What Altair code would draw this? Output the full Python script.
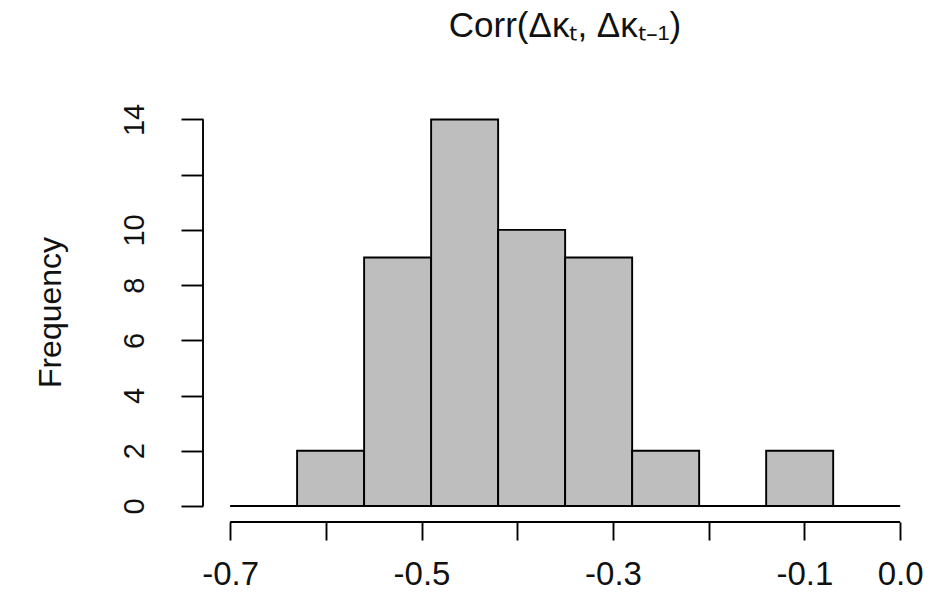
import altair as alt
import pandas as pd

# Histogram bins (0.07 wide) and counts
bin_start = [-0.63, -0.56, -0.49, -0.42, -0.35, -0.28, -0.21, -0.14]
bin_end = [-0.56, -0.49, -0.42, -0.35, -0.28, -0.21, -0.14, -0.07]
counts = [2, 9, 14, 10, 9, 2, 0, 2]

x_ticks = [-0.7, -0.6, -0.5, -0.4, -0.3, -0.2, -0.1, 0.0]
x_labeled = [-0.7, -0.5, -0.3, -0.1, 0.0]
y_ticks = [0, 2, 4, 6, 8, 10, 12, 14]
y_hidden = [12]

x_domain = [-0.7283, 0.028]
y_domain = [-0.58, 14.56]

FONT = "Liberation Sans"
LW = 1.9

df = pd.DataFrame({"start": bin_start, "end": bin_end, "count": counts})
base_df = pd.DataFrame({"start": [x_ticks[0]], "end": [x_ticks[-1]], "count": [0]})
xline_df = pd.DataFrame({"start": [x_ticks[0]], "end": [x_ticks[-1]], "count": [y_domain[0]]})
yline_df = pd.DataFrame({"start": [x_domain[0]], "count": [y_ticks[0]], "top": [y_ticks[-1]]})

xscale = alt.Scale(domain=x_domain, nice=False, zero=False)
yscale = alt.Scale(domain=y_domain, nice=False, zero=False)

lab_list = "[" + ",".join(str(v) for v in x_labeled) + "]"
x_expr = (f"indexof({lab_list}, datum.value) >= 0 ? "
          "(datum.value < 0 ? '-' + format(abs(datum.value), '.1f') : format(datum.value, '.1f')) : ''")
hid_list = "[" + ",".join(str(v) for v in y_hidden) + "]"
y_expr = f"indexof({hid_list}, datum.value) >= 0 ? '' : format(datum.value, 'd')"

xaxis = alt.Axis(values=x_ticks, labelExpr=x_expr, tickSize=18, tickWidth=LW,
                 tickColor="black", domain=False, grid=False, labelFontSize=33,
                 labelFont=FONT, labelColor="#111111", labelBaseline="alphabetic",
                 labelPadding=44, labelFlush=False, labelOverlap=False, title=None)
yaxis = alt.Axis(values=y_ticks, labelExpr=y_expr, tickSize=22, tickWidth=LW,
                 tickColor="black", domain=False, grid=False, labelFontSize=29,
                 labelFont=FONT, labelColor="#111111", labelAngle=270,
                 labelAlign="center", labelBaseline="alphabetic", labelPadding=38,
                 labelOverlap=False, labelFlush=False,
                 title="Frequency", titleAngle=270, titleFontSize=32,
                 titleFont=FONT, titleFontWeight="normal", titleColor="#111111",
                 titleX=-143, titleY=208, titleAlign="center",
                 titleBaseline="alphabetic")

X = lambda: alt.X("start:Q", scale=xscale, axis=xaxis)
Y = lambda: alt.Y("count:Q", scale=yscale, axis=yaxis)

bars = alt.Chart(df).mark_rect(fill="#BEBEBE", stroke="black", strokeWidth=LW).encode(
    x=X(), x2="end:Q", y=Y(), y2=alt.datum(0),
)

baseline = alt.Chart(base_df).mark_rule(color="black", strokeWidth=LW).encode(
    x=X(), x2="end:Q", y=Y(),
)

xline = alt.Chart(xline_df).mark_rule(color="black", strokeWidth=LW).encode(
    x=X(), x2="end:Q", y=Y(),
)

yline = alt.Chart(yline_df).mark_rule(color="black", strokeWidth=LW).encode(
    x=X(), y=Y(), y2="top:Q",
)

chart = alt.layer(bars, baseline, xline, yline).properties(
    width=724,
    height=418,
    padding={"left": 203, "top": 104, "right": 9, "bottom": 71},
    autosize=alt.AutoSizeParams(type="none"),
    background="white",
    title=alt.TitleParams(text="Corr(Δκₜ, Δκₜ₋₁)", fontSize=35, font=FONT,
                          fontWeight="normal", color="#111111", anchor="middle",
                          baseline="alphabetic", offset=31),
).configure_view(stroke=None)

chart.save("out.html", embed_options={"renderer": "svg", "actions": False})
